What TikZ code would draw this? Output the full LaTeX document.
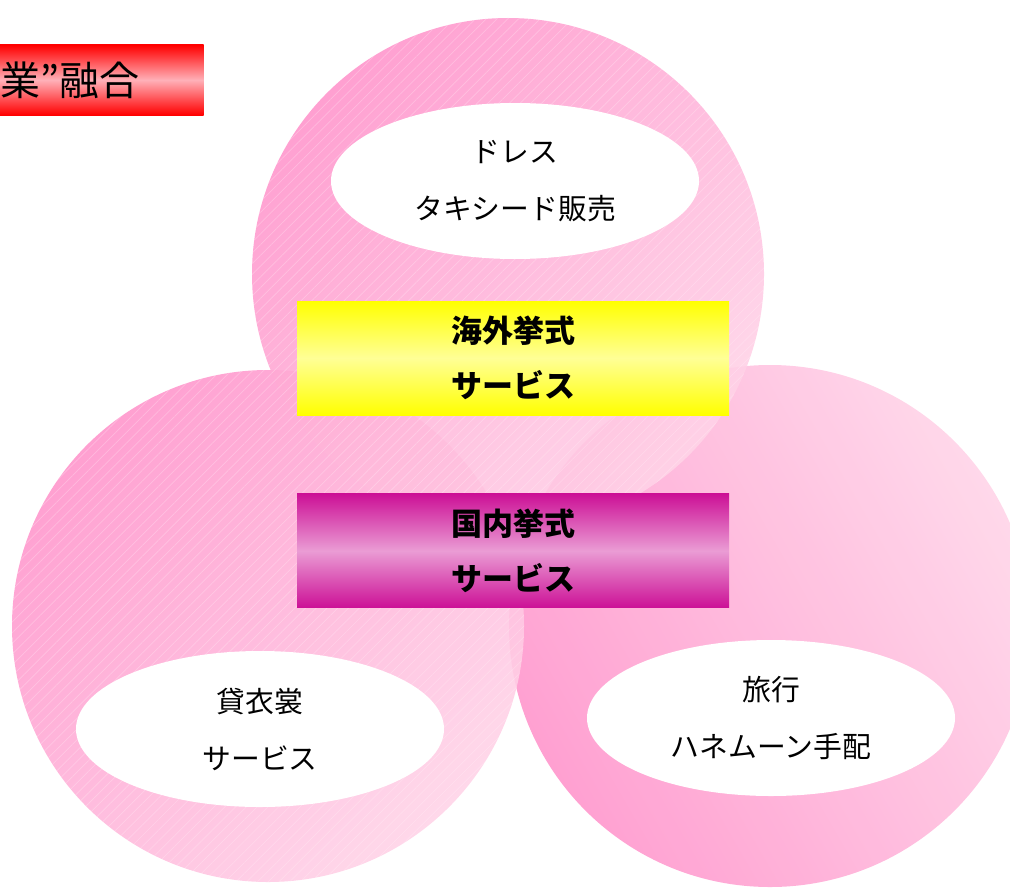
\documentclass[tikz,border=0pt]{standalone}
\usepackage{fontspec}
\newfontfamily\jp{Noto Sans CJK JP}
\usetikzlibrary{shapes.geometric}
\usetikzlibrary{patterns.meta}
\usetikzlibrary{positioning}

\definecolor{pinkdark}{RGB}{255,150,204}
\definecolor{pinklight}{RGB}{255,212,232}
\definecolor{plumdark}{RGB}{204,16,150}
\definecolor{plumlight}{RGB}{234,156,212}
\definecolor{lemon}{RGB}{255,255,150}
\definecolor{rose}{RGB}{255,176,184}

\begin{document}
\begin{tikzpicture}[x=0.5pt, y=-0.5pt, font=\jp,
    every node/.style={text=black, align=center},
    bubble/.style={fill opacity=0.9, top color=pinkdark, bottom color=pinklight},
    hatch/.style={pattern={Lines[angle=45, distance=3.8pt, line width=0.3pt]}, pattern color=white},
    oval/.style={ellipse, fill=white, minimum width=184pt, minimum height=78pt, inner sep=0pt, font=\jp\fontsize{14.4}{28.5}\selectfont},
    band/.style={rectangle, minimum width=216pt, minimum height=57pt, inner sep=0pt, font=\jp\bfseries\fontsize{15.5}{27.5}\selectfont}]
    \useasboundingbox (0,0) rectangle (1010,888);

    % three circles
    \coordinate (ctop) at (508,274);
    \coordinate (cleft) at (268,626);
    \coordinate (cright) at (770,626);
    \shade[bubble, shading angle=120] (cright) circle[radius=130.5pt];
    \shade[bubble, shading angle=45] (cleft) circle[radius=128pt];
    \begin{scope}[transparency group, opacity=0.25]
        \fill[hatch] (cleft) circle[radius=128pt];
    \end{scope}
    \shade[bubble, shading angle=45] (ctop) circle[radius=128pt];
    \begin{scope}[transparency group, opacity=0.25]
        \fill[hatch] (ctop) circle[radius=128pt];
    \end{scope}

    % title
    \node[rectangle, anchor=east, minimum height=35pt, inner xsep=32pt, top color=red, bottom color=red, middle color=rose, font=\jp\fontsize{20}{24}\selectfont] (fusion) at (204,80) {業”融合};

    % services
    \node[oval] (dress) at (515,181) {ドレス\\タキシード販売};
    \node[oval] (rental) at (260,729) {貸衣裳\\サービス};
    \node[oval] (travel) at (771,718) {旅行\\ハネムーン手配};

    \node[band, top color=yellow, bottom color=yellow, middle color=lemon] (overseas) at (513,358) {海外挙式\\サービス};
    \node[band, top color=plumdark, bottom color=plumdark, middle color=plumlight] (domestic) [below=39pt of overseas] {国内挙式\\サービス};
\end{tikzpicture}
\end{document}
